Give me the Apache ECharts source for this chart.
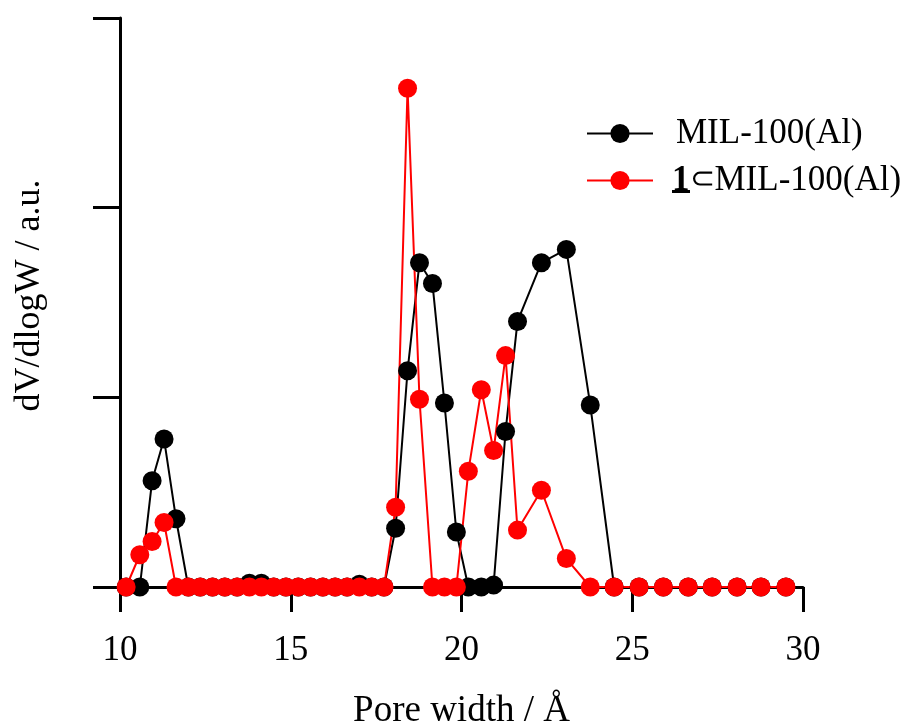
<!DOCTYPE html>
<html>
<head>
<meta charset="utf-8">
<script src="https://cdn.jsdelivr.net/npm/echarts@6/dist/echarts.min.js"></script>
<style>
html,body{margin:0;padding:0;background:#fff;}
#chart{width:902px;height:724px;}
</style>
</head>
<body>
<div id="chart"></div>
<script>
// Pore widths (Å)
var poreWidth = [10.18, 10.58, 10.94, 11.29, 11.64, 12.00, 12.35, 12.71, 13.07, 13.43, 13.79, 14.14, 14.50, 14.86, 15.22, 15.58, 15.94, 16.30, 16.65, 17.01, 17.37, 17.73, 18.07, 18.42, 18.77, 19.15, 19.50, 19.85, 20.20, 20.58, 20.94, 21.29, 21.64, 22.34, 23.07, 23.77, 24.47, 25.20, 25.91, 26.64, 27.34, 28.07, 28.77, 29.50];
// dV/dlogW (a.u.) MIL-100(Al)
var milValues = [0, 0, 0.56, 0.78, 0.36, 0, 0, 0, 0, 0, 0.02, 0.02, 0, 0, 0, 0, 0, 0, 0, 0.015, 0, 0, 0.31, 1.14, 1.71, 1.60, 0.97, 0.29, 0, 0, 0.01, 0.82, 1.40, 1.71, 1.78, 0.96, 0, 0, 0, 0, 0, 0, 0, 0];
// dV/dlogW (a.u.) 1⊂MIL-100(Al)
var compValues = [0, 0.17, 0.24, 0.34, 0, 0, 0, 0, 0, 0, 0, 0, 0, 0, 0, 0, 0, 0, 0, 0, 0, 0, 0.42, 2.63, 0.99, 0, 0, 0, 0.61, 1.04, 0.72, 1.22, 0.30, 0.51, 0.15, 0, 0, 0, 0, 0, 0, 0, 0, 0];
var xTicks = [10, 15, 20, 25, 30];
var seriesNames = ['MIL-100(Al)', '1⊂MIL-100(Al)'];

function pairs(xs, ys) { return xs.map(function (x, i) { return [x, ys[i]]; }); }

var FONT = 'Liberation Serif';
var chart = echarts.init(document.getElementById('chart'), null, {renderer: 'canvas'});
chart.setOption({
  animation: false,
  backgroundColor: '#fff',
  grid: {left: 120, right: 99, top: 18, bottom: 137, containLabel: false, outerBoundsMode: 'none'},
  legend: {
    orient: 'vertical',
    left: 581, top: 111,
    itemWidth: 66, itemHeight: 24, itemGap: 12,
    data: seriesNames,
    formatter: function (n) {
      if (n === seriesNames[0]) return '{t|' + n + '}';
      return '{b|1}{s|⊂}{u|MIL-100(Al)}';
    },
    textStyle: {
      color: '#000', fontFamily: FONT, fontSize: 35,
      rich: {
        t: {fontFamily: FONT, fontSize: 35, color: '#000', padding: [0, 0, 0, 18]},
        u: {fontFamily: FONT, fontSize: 35, color: '#000'},
        s: {fontFamily: FONT, fontSize: 30, color: '#000'},
        b: {fontFamily: FONT, fontSize: 35, fontWeight: 'bold', color: '#000', padding: [0, 0, 0, 14]}
      }
    }
  },
  xAxis: {
    type: 'value', min: xTicks[0], max: xTicks[xTicks.length - 1], interval: 5,
    name: 'Pore width / Å', nameLocation: 'middle', nameGap: 106,
    nameTextStyle: {fontFamily: FONT, fontSize: 37, color: '#000'},
    axisLine: {lineStyle: {color: '#000', width: 3}},
    axisTick: {length: 25, lineStyle: {color: '#000', width: 3}},
    axisLabel: {fontFamily: FONT, fontSize: 35, color: '#000', margin: 46},
    splitLine: {show: false}
  },
  yAxis: {
    type: 'value', min: 0, max: 3, interval: 1,
    name: 'dV/dlogW / a.u.', nameLocation: 'middle', nameGap: 72, nameRotate: 90,
    nameTextStyle: {fontFamily: FONT, fontSize: 36, color: '#000', padding: [0, 0, 0, 14]},
    axisLine: {show: true, onZero: false, lineStyle: {color: '#000', width: 3}},
    axisTick: {show: true, length: 27, lineStyle: {color: '#000', width: 3}},
    axisLabel: {show: false},
    splitLine: {show: false}
  },
  series: [
    {
      name: seriesNames[0], type: 'line', data: pairs(poreWidth, milValues),
      symbol: 'circle', symbolSize: 19, showAllSymbol: true,
      itemStyle: {color: '#000'}, lineStyle: {color: '#000', width: 2}
    },
    {
      name: seriesNames[1], type: 'line', data: pairs(poreWidth, compValues),
      symbol: 'circle', symbolSize: 19, showAllSymbol: true,
      itemStyle: {color: '#ff0000'}, lineStyle: {color: '#ff0000', width: 2}
    }
  ],
  graphic: [
    {type: 'rect', left: 672, top: 190, shape: {width: 18, height: 3}, style: {fill: '#000'}}
  ]
});
</script>
</body>
</html>
